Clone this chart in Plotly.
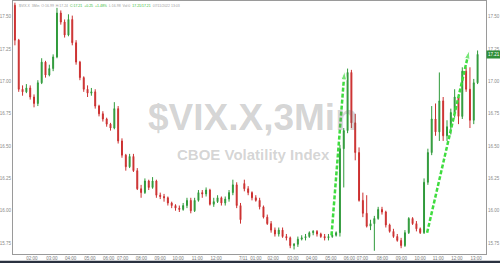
import plotly.graph_objects as go

# 12-minute candles of $VIX.X (index positions along the session)
opens = [17.59,17.32,16.94,16.92,16.95,16.88,16.83,16.99,17.15,17.05,
         17.10,17.19,17.53,17.46,17.36,17.48,17.30,17.15,17.03,16.94,
         16.91,16.92,16.81,16.75,16.71,16.67,16.64,16.79,16.54,16.43,
         16.34,16.42,16.31,16.17,16.14,16.23,16.18,16.23,16.12,16.11,
         16.10,16.06,16.04,16.02,16.01,16.04,16.08,16.00,16.08,16.14,
         16.13,16.16,16.05,16.07,16.10,16.06,16.09,16.14,16.20,16.04,
         16.21,16.17,16.14,16.10,16.08,16.03,15.95,15.90,15.85,15.82,
         15.85,15.80,15.79,15.73,15.74,15.78,15.79,15.80,15.83,15.84,
         15.82,15.80,15.79,15.80,15.81,15.83,16.48,16.62,17.07,16.68,
         16.45,16.08,15.98,15.88,15.90,15.94,16.01,15.99,15.89,15.84,
         15.80,15.77,15.73,15.83,15.94,15.90,15.86,15.83,16.22,16.45,
         16.71,16.61,16.85,16.58,16.65,16.76,16.88,16.73,17.08,16.94,
         16.70,16.99]
highs = [17.61,17.33,16.97,16.98,16.97,16.90,17.01,17.18,17.16,17.13,
         17.21,17.57,17.55,17.48,17.52,17.51,17.32,17.16,17.04,16.97,
         16.95,16.94,16.82,16.77,16.72,16.68,16.84,16.81,16.56,16.44,
         16.44,16.44,16.33,16.20,16.25,16.24,16.26,16.24,16.14,16.13,
         16.11,16.07,16.05,16.04,16.06,16.10,16.10,16.10,16.16,16.16,
         16.18,16.17,16.10,16.12,16.11,16.11,16.16,16.24,16.22,16.06,
         16.24,16.19,16.15,16.12,16.10,16.04,15.97,15.92,15.87,15.87,
         15.87,15.82,15.80,15.75,15.80,15.81,15.82,15.84,15.85,15.85,
         15.83,15.82,15.82,15.83,15.84,16.51,16.64,17.10,17.09,16.75,
         16.49,16.14,16.12,15.93,15.96,16.03,16.03,16.00,15.90,15.86,
         15.82,15.79,15.85,15.95,15.95,15.92,15.87,16.25,16.48,16.81,
         16.83,17.07,16.88,16.70,16.79,16.94,16.90,17.11,17.11,17.11,
         17.02,17.24]
lows = [17.28,16.92,16.89,16.91,16.86,16.80,16.81,16.98,17.03,17.04,
        17.08,17.18,17.44,17.34,17.35,17.28,17.13,17.01,16.92,16.88,
        16.89,16.79,16.73,16.69,16.65,16.62,16.63,16.52,16.41,16.31,
        16.33,16.30,16.16,16.10,16.13,16.16,16.17,16.10,16.09,16.07,
        16.04,16.02,16.00,15.99,16.00,16.02,15.98,15.99,16.07,16.10,
        16.11,16.04,16.03,16.06,16.04,16.04,16.07,16.12,16.02,15.90,
        16.15,16.12,16.08,16.07,16.01,15.94,15.89,15.83,15.80,15.80,
        15.79,15.77,15.71,15.70,15.72,15.77,15.77,15.79,15.81,15.80,
        15.79,15.77,15.77,15.79,15.80,15.80,16.18,16.60,16.64,16.39,
        16.07,15.95,15.87,15.85,15.69,15.93,15.97,15.87,15.83,15.79,
        15.76,15.71,15.72,15.82,15.89,15.84,15.82,15.82,16.20,16.43,
        16.58,16.54,16.54,16.54,16.59,16.72,16.67,16.71,16.92,16.64,
        16.67,16.98]
closes = [17.32,16.94,16.92,16.95,16.88,16.83,16.99,17.15,17.05,17.10,
          17.19,17.53,17.46,17.36,17.48,17.30,17.15,17.03,16.94,16.91,
          16.92,16.81,16.75,16.71,16.67,16.64,16.79,16.54,16.43,16.34,
          16.42,16.31,16.17,16.14,16.23,16.18,16.23,16.12,16.11,16.10,
          16.06,16.04,16.02,16.01,16.04,16.08,16.00,16.08,16.14,16.13,
          16.16,16.05,16.07,16.10,16.06,16.09,16.14,16.20,16.04,15.93,
          16.17,16.14,16.10,16.08,16.03,15.95,15.90,15.85,15.82,15.85,
          15.80,15.79,15.73,15.74,15.78,15.79,15.80,15.83,15.84,15.82,
          15.80,15.79,15.80,15.81,15.83,16.48,16.62,17.07,16.68,16.45,
          16.08,15.98,15.88,15.90,15.94,16.01,15.99,15.89,15.84,15.80,
          15.77,15.73,15.83,15.94,15.90,15.86,15.83,16.22,16.45,16.71,
          16.61,16.85,16.58,16.65,16.76,16.88,16.73,17.08,16.94,16.70,
          16.99,17.21]
bar_index = list(range(len(closes)))

# axis labels
y_ticks = [15.75, 16.00, 16.25, 16.50, 16.75, 17.00, 17.25, 17.50]
x_tick_pos = [4.45, 9.66, 14.6, 19.6, 24.5, 28.15, 33.1, 38.0, 42.7, 47.7, 52.6,
              59.7, 63.0, 67.5, 72.7, 77.6, 82.6, 87.5, 90.9, 96.1, 101.1,
              106.0, 110.7, 115.6, 120.6]
x_tick_text = ["02:00", "03:00", "04:00", "05:00", "06:00", "07:00", "08:00",
               "09:00", "10:00", "11:00", "12:00", "7/11", "01:00", "02:00",
               "03:00", "04:00", "05:00", "06:00", "07:00", "08:00", "09:00",
               "10:00", "11:00", "12:00", "13:00"]

# annotation arrows (start, end) in index / value units
arrow1_x = [82.8, 86.2]
arrow1_y = [15.81, 17.08]
arrow2_x = [107.8, 118.8]
arrow2_y = [15.83, 17.24]

UP = "#2f9a3a"
DOWN = "#cc3030"
ARROW = "#3fdc3f"

fig = go.Figure()
fig.add_trace(go.Candlestick(
    x=bar_index, open=opens, high=highs, low=lows, close=closes,
    increasing=dict(line=dict(color=UP, width=1), fillcolor=UP),
    decreasing=dict(line=dict(color=DOWN, width=1), fillcolor=DOWN),
    whiskerwidth=0, showlegend=False, hoverinfo="skip"))

for ax_, ay_ in [(arrow1_x, arrow1_y), (arrow2_x, arrow2_y)]:
    fig.add_trace(go.Scatter(
        x=ax_, y=ay_, mode="lines+markers",
        line=dict(color=ARROW, width=2.5, dash="4px,2px"),
        marker=dict(symbol="arrow", size=[0, 9], color=ARROW, angleref="previous"),
        showlegend=False, hoverinfo="skip"))

# invisible trace for the right-hand price axis
fig.add_trace(go.Scatter(x=bar_index, y=closes, yaxis="y2", mode="lines",
                         line=dict(width=0), opacity=0, showlegend=False,
                         hoverinfo="skip"))

yr = [15.665, 17.623]
fig.update_layout(
    width=500, height=263,
    margin=dict(l=12, r=13, t=0, b=9),
    paper_bgcolor="white", plot_bgcolor="white",
    boxgap=0.65,
    font=dict(family="Liberation Sans, Arial, sans-serif", color="#8a8a8a", size=4.5),
    xaxis=dict(range=[-0.5, 123.2], rangeslider=dict(visible=False),
               tickmode="array", tickvals=x_tick_pos, ticktext=x_tick_text,
               tickangle=0, ticklabelstandoff=0,
               showgrid=False, zeroline=False, showline=True, linecolor="#9a9a9a",
               linewidth=1, mirror=True, ticks="", tickfont=dict(size=4.5, color="#7a7a7a")),
    yaxis=dict(range=yr, tickmode="array", tickvals=y_ticks, tickformat=".2f",
               showgrid=False, zeroline=False, showline=True, linecolor="#9a9a9a",
               linewidth=1, ticks="", side="left", tickfont=dict(size=4.5, color="#8a8a8a")),
    yaxis2=dict(range=yr, overlaying="y", side="right", tickmode="array",
                tickvals=y_ticks, tickformat=".2f", showgrid=False, zeroline=False,
                showline=True, linecolor="#9a9a9a", linewidth=1, ticks="",
                tickfont=dict(size=4.5, color="#8a8a8a")),
)

# watermark
fig.add_annotation(x=0.508, y=0.54, xref="paper", yref="paper", showarrow=False,
                   text="<b>$VIX.X,3Min</b>",
                   font=dict(size=37, color="rgba(110,110,110,0.30)",
                             family="Liberation Sans, Arial, sans-serif"))
fig.add_annotation(x=0.508, y=0.395, xref="paper", yref="paper", showarrow=False,
                   text="<b>CBOE Volatility Index</b>",
                   font=dict(size=15, color="rgba(110,110,110,0.30)",
                             family="Liberation Sans, Arial, sans-serif"))

# header line
fig.add_annotation(x=0.008, y=0.997, xref="paper", yref="paper", showarrow=False,
                   xanchor="left", yanchor="top",
                   text=("$VIX.X  3Min  O:16.99  H:17.24  "
                         "<span style='color:#33bb33'>C:17.21  +0.25  +1.48%</span>"
                         "  L:16.98  Vol:0  <span style='color:#33bb33'>17.21/17.21</span>"
                         "  07/11/2022 13:03"),
                   font=dict(size=3.5, color="#a0a0a0"))

# last price tag
fig.add_annotation(x=1.0, y=closes[-1], xref="paper", yref="y", showarrow=False,
                   xanchor="left", text="%.2f" % closes[-1], bgcolor="#2f8f3a",
                   borderpad=1, font=dict(size=4.5, color="white"))

# bottom dark strip
fig.add_shape(type="rect", xref="paper", yref="paper", x0=-0.05, x1=1.05,
              y0=-0.0355, y1=-0.0265, fillcolor="#2a3140", line=dict(width=0),
              layer="above")

fig.write_html("out.html")
